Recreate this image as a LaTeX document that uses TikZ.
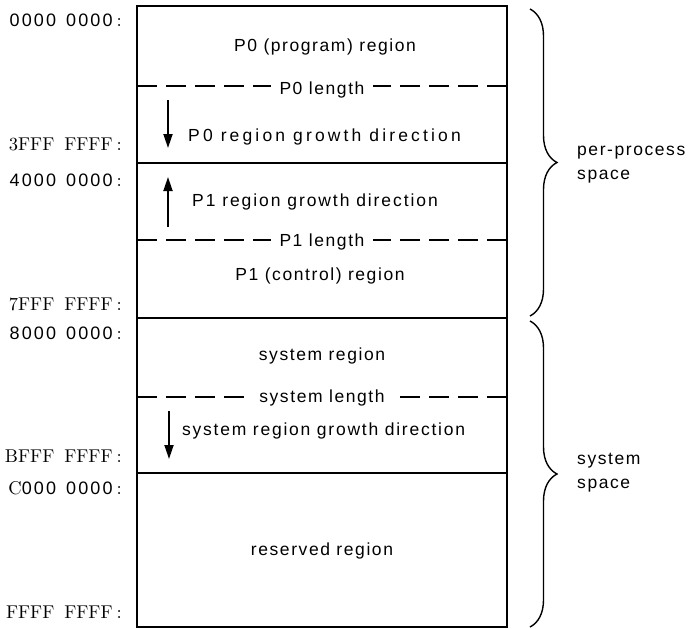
\documentclass[tikz,border=0pt]{standalone}
\usepackage{fontspec}
\usetikzlibrary{arrows.meta,decorations.pathreplacing}
\newfontfamily\hvfam[LetterSpace=9]{Liberation Sans}
\newfontfamily\hvaddr[LetterSpace=12]{Liberation Sans}
\newfontfamily\serfam{lmroman10-regular.otf}
\newcommand\bodyfont{\hvfam\fontsize{17.5}{24}\selectfont}
\newcommand\addrsans{\hvaddr\fontsize{18}{22}\selectfont}
\newcommand\serfont{\serfam\fontsize{18.5}{22}\selectfont}
\tikzset{
  lbl/.style={font=\bodyfont, anchor=base, inner sep=0pt},
  lenlbl/.style={font=\bodyfont, anchor=base, inner xsep=8pt, inner ysep=0pt},
  growlbl/.style={font=\bodyfont, anchor=base west, inner sep=0pt},
  addr/.style={anchor=base east, inner sep=0pt},
  boxline/.style={line width=2pt},
  dsh/.style={line width=1.6pt, dash pattern=on 20pt off 9pt},
  growarrow/.style={line width=1.8pt, -{Triangle[length=14pt,width=9pt]}},
  brc/.style={decorate, decoration={brace, amplitude=27pt}, line width=1.4pt},
  spacelbl/.style={font=\bodyfont, anchor=west, align=left, inner sep=0pt}
}
\newcommand\colsep{\serfont\hspace{4pt}:}
\begin{document}
\begin{tikzpicture}[x=1pt,y=-1pt]
\useasboundingbox (0,0) rectangle (688,629);
% frame
\coordinate (tl) at (137,6);
\coordinate (br) at (507,627);
\draw[boxline] (tl) rectangle (br);
\coordinate (h1l) at (137,163); \coordinate (h1r) at (507,163);
\coordinate (h2l) at (137,318); \coordinate (h2r) at (507,318);
\coordinate (h3l) at (137,473); \coordinate (h3r) at (507,473);
\draw[boxline] (h1l) -- (h1r);
\draw[boxline] (h2l) -- (h2r);
\draw[boxline] (h3l) -- (h3r);
% addresses
\node[addr] (a0) at (122,27) {\addrsans 0000\hspace{10pt}0000\colsep};
\node[addr] (a1) at (122,150) {\serfont 3FFF\hspace{10pt}FFFF\colsep};
\node[addr] (a2) at (122,186) {\addrsans 4000\hspace{10pt}0000\colsep};
\node[addr] (a3) at (122,310) {\serfont 7FFF\hspace{10pt}FFFF\colsep};
\node[addr] (a4) at (122,339) {\addrsans 8000\hspace{10pt}0000\colsep};
\node[addr] (a5) at (122,462) {\serfont BFFF\hspace{10pt}FFFF\colsep};
\node[addr] (a6) at (122,494) {\serfont C\addrsans 000\hspace{10pt}0000\colsep};
\node[addr] (a7) at (122,618) {\serfont FFFF\hspace{10pt}FFFF\colsep};
% region texts
\node[lbl] (p0) at (325,51) {P0 (program) region};
\node[lenlbl] (p0len) at (322,94) {P0 length};
\node[growlbl] (p0g) at (188,141) {\addfontfeature{LetterSpace=18}P0 region growth direction};
\node[growlbl] (p1g) at (192,206) {\addfontfeature{LetterSpace=11}P1 region growth direction};
\node[lenlbl] (p1len) at (322,246) {P1 length};
\node[lbl] (p1) at (320,280) {P1 (control) region};
\node[lbl] (sys) at (322,360) {system region};
\node[lenlbl] (syslen) at (322,402) {system length};
\node[growlbl] (sysg) at (182,435) {\addfontfeature{LetterSpace=10}system region growth direction};
\node[lbl] (res) at (322,555) {reserved region};
% dashed length lines
\coordinate (d0l) at (137,86); \coordinate (d0r) at (507,86);
\coordinate (d1l) at (137,240); \coordinate (d1r) at (507,240);
\coordinate (d2l) at (137,397); \coordinate (d2r) at (507,397);
\draw[dsh] (d0l) -- (d0l -| p0len.west);
\draw[dsh] (d0r) -- (d0r -| p0len.east);
\draw[dsh] (d1l) -- (d1l -| p1len.west);
\draw[dsh] (d1r) -- (d1r -| p1len.east);
\draw[dsh] (d2l) -- (d2l -| syslen.west);
\draw[dsh] (d2r) -- (d2r -| syslen.east);
% growth arrows
\coordinate (g0s) at (168,100); \coordinate (g0e) at (168,148);
\coordinate (g1s) at (168,227); \coordinate (g1e) at (168,177);
\coordinate (g2s) at (169,411); \coordinate (g2e) at (169,459);
\draw[growarrow] (g0s) -- (g0e);
\draw[growarrow] (g1s) -- (g1e);
\draw[growarrow] (g2s) -- (g2e);
% braces
\coordinate (b0t) at (530,9); \coordinate (b0b) at (530,316);
\coordinate (b1t) at (530,321); \coordinate (b1b) at (530,627);
\draw[brc] (b0t) -- (b0b);
\draw[brc] (b1t) -- (b1b);
\node[spacelbl] (pps) at (577,165) {per-process\\space};
\node[spacelbl] (syss) at (577,473) {system\\space};
\end{tikzpicture}
\end{document}
